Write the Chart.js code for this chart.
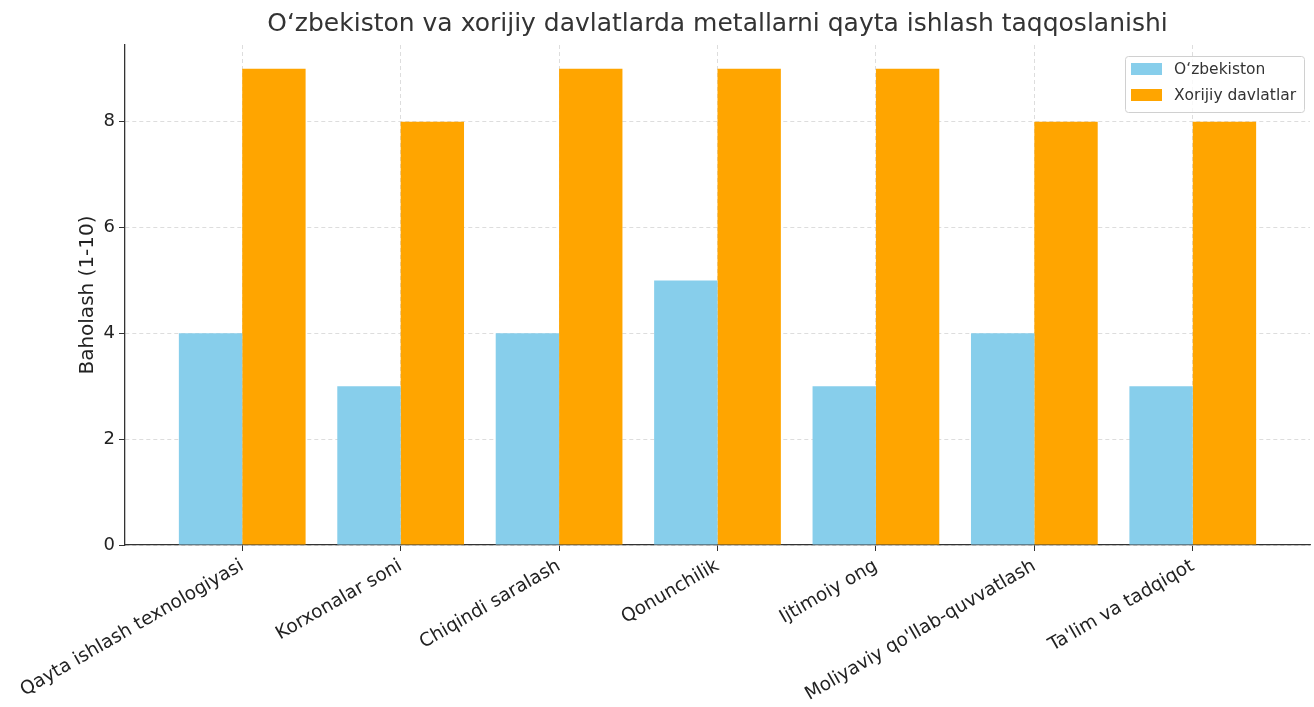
<!DOCTYPE html>
<html>
<head>
<meta charset="utf-8">
<script src="https://cdn.jsdelivr.net/npm/chart.js@4"></script>
<style>
html,body{margin:0;padding:0;background:#fff;}
#wrap{width:1314px;height:707px;}
</style>
</head>
<body>
<div id="wrap"><canvas id="c" width="1314" height="707"></canvas></div>
<script>
const categories = ["Qayta ishlash texnologiyasi","Korxonalar soni","Chiqindi saralash","Qonunchilik","Ijtimoiy ong","Moliyaviy qo'llab-quvvatlash","Ta'lim va tadqiqot"];
const uzbekistan = [4,3,4,5,3,4,3];
const foreign = [9,8,9,9,9,8,8];
const yTicks = [0,2,4,6,8];
const seriesNames = ["O‘zbekiston","Xorijiy davlatlar"];
const colors = ["#87CEEB","#FFA500"];

const FONT = "'DejaVu Sans', sans-serif";

const legendBox = {
  id: 'legendBox',
  afterDraw(chart){
    const ctx = chart.ctx;
    const x = 1125, y = 56, w = 179, h = 56;
    ctx.save();
    ctx.fillStyle = 'rgba(255,255,255,0.8)';
    ctx.strokeStyle = '#d0d0d0';
    ctx.lineWidth = 1;
    ctx.beginPath();
    ctx.roundRect(x+0.5, y+0.5, w, h, 3);
    ctx.fill(); ctx.stroke();
    ctx.font = "15.5px " + FONT;
    ctx.textBaseline = 'middle';
    chart.data.datasets.forEach((ds,i)=>{
      const cy = y + 13 + i*26;
      ctx.fillStyle = ds.backgroundColor;
      ctx.fillRect(x+6, cy-6, 31, 12);
      ctx.fillStyle = '#333';
      ctx.fillText(ds.label, x+49, cy+1);
    });
    ctx.restore();
  }
};

new Chart(document.getElementById('c'), {
  type: 'bar',
  data: {
    datasets: [
      {label: seriesNames[0], data: uzbekistan.map((v,i)=>({x:i,y:v})), backgroundColor: colors[0]},
      {label: seriesNames[1], data: foreign.map((v,i)=>({x:i,y:v})), backgroundColor: colors[1]}
    ]
  },
  options: {
    responsive: false,
    animation: false,
    devicePixelRatio: 1,
    layout: {padding: {top: 2, right: 4, bottom: 0, left: 0}},
    datasets: {bar: {categoryPercentage: 0.8, barPercentage: 1.0}},
    plugins: {
      legend: {display: false},
      tooltip: {enabled: false},
      title: {
        display: true,
        fullSize: false,
        text: "O‘zbekiston va xorijiy davlatlarda metallarni qayta ishlash taqqoslanishi",
        font: {family: FONT, size: 25, weight: 'normal'},
        color: '#333',
        padding: {top: 7, bottom: 6}
      }
    },
    scales: {
      x: {
        type: 'linear',
        offset: false,
        min: -0.74, max: 6.74,
        afterBuildTicks(s){ s.ticks = categories.map((c,i)=>({value:i})); },
        afterFit(s){ s.height = 162; },
        ticks: {
          autoSkip: false,
          minRotation: 30, maxRotation: 30,
          color: '#222',
          font: {family: FONT, size: 18.5},
          padding: 4,
          callback: (v)=> categories[v]
        },
        grid: {offset: false, color: '#d4d4d4', lineWidth: 0.8, drawTicks: true, tickLength: 6, tickColor: '#333', tickWidth: 1},
        border: {display: true, color: '#333', width: 1.3, dash: [4,3]}
      },
      y: {
        min: 0, max: 9.45,
        afterBuildTicks(s){ s.ticks = yTicks.map(v=>({value:v})); },
        afterFit(s){ s.width = 125; },
        ticks: {color: '#222', font: {family: FONT, size: 18}, padding: 4},
        title: {display: true, text: 'Baholash (1-10)', color: '#222', font: {family: FONT, size: 20}, padding: {top: 76, bottom: 0}},
        grid: {color: '#d4d4d4', lineWidth: 0.8, drawTicks: true, tickLength: 6, tickColor: '#333', tickWidth: 1},
        border: {display: true, color: '#333', width: 1.3, dash: [4,3]}
      }
    }
  },
  plugins: [legendBox]
});
</script>
</body>
</html>
